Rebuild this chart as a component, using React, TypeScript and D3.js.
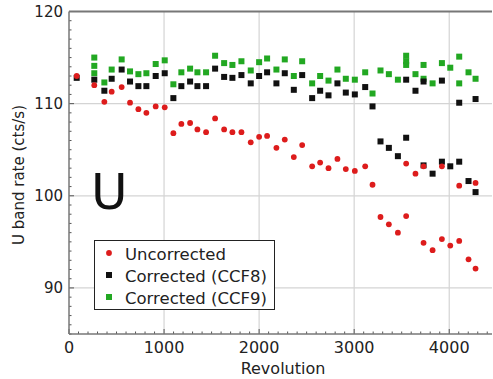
import React from "react";
import * as d3 from "d3";

const redRev = [81, 266, 372, 449, 554, 642, 730, 814, 912, 1007, 1098, 1182, 1274, 1351, 1442, 1537, 1632, 1719, 1814, 1912, 2000, 2084, 2182, 2270, 2365, 2453, 2558, 2642, 2730, 2824, 2912, 3007, 3116, 3193, 3277, 3365, 3460, 3547, 3547, 3645, 3730, 3730, 3825, 3923, 3923, 4011, 4105, 4105, 4203, 4277, 4277];
const redVal = [113.0, 112.0, 110.2, 111.3, 111.8, 110.1, 109.4, 109.0, 109.7, 109.6, 106.8, 107.8, 107.9, 107.2, 106.9, 108.4, 107.2, 106.9, 106.9, 105.8, 106.4, 106.5, 105.2, 106.1, 104.2, 105.5, 103.2, 103.6, 103.0, 104.0, 102.9, 102.7, 103.2, 101.2, 97.7, 96.9, 96.0, 103.5, 97.8, 102.4, 103.2, 94.9, 94.1, 103.2, 95.3, 94.6, 101.1, 95.1, 93.1, 101.4, 92.1];

const blackRev = [81, 266, 372, 449, 554, 642, 730, 814, 912, 1007, 1098, 1182, 1274, 1351, 1442, 1537, 1632, 1719, 1814, 1912, 2000, 2084, 2182, 2270, 2365, 2453, 2558, 2642, 2730, 2824, 2912, 3007, 3116, 3193, 3277, 3365, 3460, 3547, 3547, 3645, 3730, 3730, 3825, 3923, 3923, 4011, 4105, 4105, 4203, 4277, 4277];
const blackVal = [112.8, 112.6, 111.4, 112.7, 113.7, 112.4, 111.9, 111.9, 113.0, 113.3, 110.6, 111.9, 112.4, 111.9, 111.9, 113.8, 112.9, 112.8, 113.1, 112.2, 113.0, 113.4, 112.2, 113.3, 111.5, 113.1, 110.6, 111.4, 110.9, 112.2, 111.2, 111.0, 111.8, 109.7, 105.9, 105.2, 104.3, 112.6, 106.3, 111.4, 112.4, 103.3, 102.4, 112.5, 103.7, 103.2, 110.1, 103.7, 101.6, 110.5, 100.4];

const greenRev = [266, 266, 266, 372, 449, 554, 642, 730, 814, 912, 1007, 1098, 1182, 1274, 1351, 1442, 1537, 1632, 1719, 1814, 1912, 2000, 2084, 2182, 2270, 2365, 2453, 2558, 2642, 2730, 2824, 2912, 3007, 3116, 3193, 3277, 3365, 3460, 3547, 3547, 3547, 3645, 3730, 3730, 3825, 3923, 4011, 4105, 4105, 4203, 4277];
const greenVal = [115.0, 114.1, 113.3, 112.3, 113.7, 114.8, 113.5, 113.2, 113.3, 114.3, 114.7, 112.1, 113.4, 113.8, 113.4, 113.4, 115.2, 114.4, 114.2, 114.6, 113.6, 114.5, 114.9, 113.7, 114.8, 113.0, 114.6, 112.2, 113.0, 112.5, 113.7, 112.7, 112.6, 113.4, 111.1, 113.6, 113.2, 112.6, 115.2, 114.6, 114.2, 113.2, 114.2, 112.7, 112.2, 114.4, 113.9, 115.1, 112.2, 113.4, 112.7];

const xTicks = [0, 1000, 2000, 3000, 4000];
const yTicks = [90, 100, 110, 120];
const legendLabels = ["Uncorrected", "Corrected (CCF8)", "Corrected (CCF9)"];

const FONT = "DejaVu Sans, sans-serif";
const RED = "#dd1c1c";
const BLACK = "#111111";
const GREEN = "#22a822";

export default function App() {
  const W = 493, H = 379;
  const x = d3.scaleLinear().domain([0, 4450]).range([69, 492]);
  const y = d3.scaleLinear().domain([85, 120]).range([334, 11.5]);
  const [x0, x1] = x.range();
  const [yb, yt] = y.range();
  const xMinor = d3.range(0, 4451, 100);
  const yMinor = d3.range(85, 120.01, 1);
  const sq = 6;

  return (
    <svg width={W} height={H} style={{ position: "absolute", left: 0, top: 0, background: "#fff" }} fontFamily={FONT}>
      <rect x={0} y={0} width={W} height={H} fill="#fff" />
      {/* grid */}
      {xTicks.filter(t => t > 0).map(t => (
        <line key={"gx" + t} x1={x(t)} x2={x(t)} y1={yt} y2={yb} stroke="#d4d4d4" strokeWidth={1.2} />
      ))}
      {yTicks.filter(t => t < 120).map(t => (
        <line key={"gy" + t} x1={x0} x2={x1} y1={y(t)} y2={y(t)} stroke="#d4d4d4" strokeWidth={1.2} />
      ))}
      {/* minor ticks */}
      {xMinor.map(t => (
        <line key={"mx" + t} x1={x(t)} x2={x(t)} y1={yb} y2={yb - (t % 1000 === 0 ? 5 : 2.5)} stroke="#555" strokeWidth={1} />
      ))}
      {yMinor.map(t => (
        <line key={"my" + t} x1={x0} x2={x0 + (Math.round(t) % 10 === 0 ? 5 : 2.5)} y1={y(t)} y2={y(t)} stroke="#555" strokeWidth={1} />
      ))}
      {/* frame */}
      <line x1={x0} x2={x1} y1={yt} y2={yt} stroke="#777" strokeWidth={2} />
      <line x1={x0} x2={x0} y1={yt} y2={yb} stroke="#777" strokeWidth={1.5} />
      <line x1={x0} x2={x1} y1={yb} y2={yb} stroke="#777" strokeWidth={1.5} />
      {/* tick labels */}
      {xTicks.map(t => (
        <text key={"tx" + t} x={x(t)} y={353} textAnchor="middle" fontSize={16} fill="#222">{t}</text>
      ))}
      {yTicks.map(t => (
        <text key={"ty" + t} x={63} y={y(t) + 5} textAnchor="end" fontSize={15} fill="#222">{t}</text>
      ))}
      <text x={283} y={374} textAnchor="middle" fontSize={16} fill="#222">Revolution</text>
      <text transform={`translate(24,175) rotate(-90)`} textAnchor="middle" fontSize={15} fill="#222">U band rate (cts/s)</text>
      {/* big U */}
      <text x={91} y={209} fontSize={50} fill="#111">U</text>
      {/* data */}
      {greenRev.map((r, i) => (
        <rect key={"g" + i} x={x(r) - sq / 2} y={y(greenVal[i]) - sq / 2} width={sq} height={sq} fill={GREEN} />
      ))}
      {blackRev.map((r, i) => (
        <rect key={"b" + i} x={x(r) - sq / 2} y={y(blackVal[i]) - sq / 2} width={sq} height={sq} fill={BLACK} />
      ))}
      {redRev.map((r, i) => (
        <circle key={"r" + i} cx={x(r)} cy={y(redVal[i])} r={2.9} fill={RED} />
      ))}
      {/* legend */}
      <rect x={94.5} y={240.5} width={180} height={69} fill="#fff" stroke="#222" strokeWidth={1} />
      <circle cx={109} cy={253} r={2.9} fill={RED} />
      <rect x={106} y={272} width={6} height={6} fill={BLACK} />
      <rect x={106} y={294} width={6} height={6} fill={GREEN} />
      {legendLabels.map((l, i) => (
        <text key={l} x={125} y={260 + i * 22} fontSize={16.5} fill="#222">{l}</text>
      ))}
    </svg>
  );
}
